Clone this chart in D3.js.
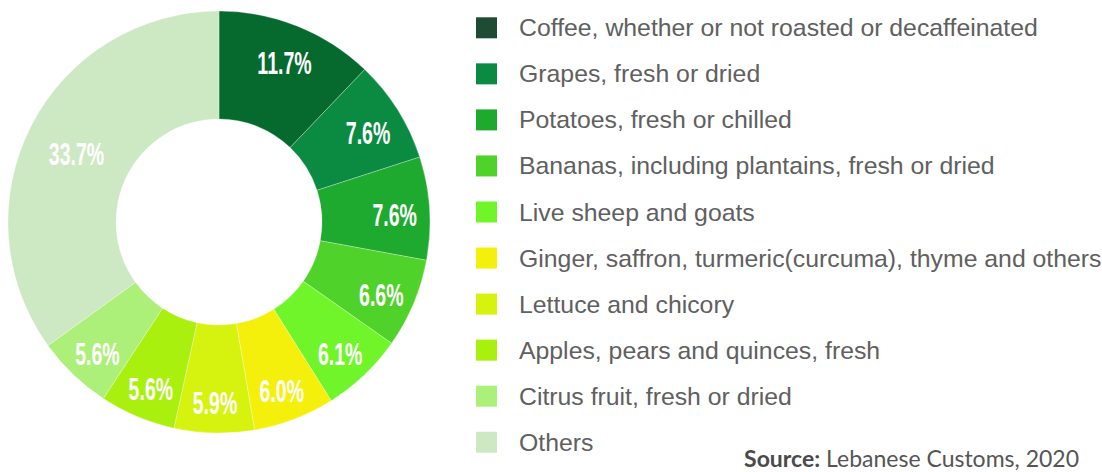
<!DOCTYPE html>
<html>
<head>
<meta charset="utf-8">
<script src="https://cdn.jsdelivr.net/npm/d3@7"></script>
<style>
  html, body { margin: 0; padding: 0; background: #ffffff; }
  svg { display: block; }
</style>
</head>
<body>
<svg id="chart" width="1102" height="472"></svg>
<script>
// Lebanese agri-food imports by product, share of total (%)
const categories = [
  "Coffee, whether or not roasted or decaffeinated",
  "Grapes, fresh or dried",
  "Potatoes, fresh or chilled",
  "Bananas, including plantains, fresh or dried",
  "Live sheep and goats",
  "Ginger, saffron, turmeric(curcuma), thyme and others",
  "Lettuce and chicory",
  "Apples, pears and quinces, fresh",
  "Citrus fruit, fresh or dried",
  "Others"
];
const shares = [11.7, 7.6, 7.6, 6.6, 6.1, 6.0, 5.9, 5.6, 5.6, 33.7];
const sliceColors = ["#066a2e", "#0b8b41", "#1ea92f", "#4fd22a", "#70f52a",
                     "#f4f00c", "#d6f20f", "#a9f00f", "#acef79", "#cde9c4"];
const swatchColors = ["#1f4a33", "#0b8b41", "#1ea92f", "#4fd22a", "#70f52a",
                      "#f4f00c", "#d6f20f", "#a9f00f", "#acef79", "#cde9c4"];
const sourceLabel = "Source:";
const sourceText = "Lebanese Customs, 2020";

const data = categories.map((c, i) => ({ name: c, value: shares[i], i }));

const svg = d3.select("#chart");

// ---- donut ----
const cx = 219, cy = 222, outerR = 211, innerR = 103;
const pie = d3.pie().value(d => d.value).sort(null);
const arc = d3.arc().innerRadius(innerR).outerRadius(outerR);
const labelArc = d3.arc().innerRadius(176).outerRadius(176);
const othersArc = d3.arc().innerRadius(160).outerRadius(160);

const g = svg.append("g").attr("transform", `translate(${cx},${cy})`);
const arcs = pie(data);

g.selectAll("path.slice")
  .data(arcs)
  .join("path")
  .attr("class", "slice")
  .attr("d", arc)
  .attr("fill", d => sliceColors[d.data.i])
  .attr("stroke", "rgba(255,255,255,0.35)")
  .attr("stroke-width", 0.8);

// condensed percentage labels
g.selectAll("text.pct")
  .data(arcs)
  .join("text")
  .attr("class", "pct")
  .attr("transform", d => {
    const [x, y] = (d.data.i === categories.length - 1 ? othersArc : labelArc).centroid(d);
    return `translate(${x},${y + 5}) scale(0.63,1)`;
  })
  .attr("text-anchor", "middle")
  .attr("dominant-baseline", "central")
  .attr("font-family", "'Liberation Sans', Arial, sans-serif")
  .attr("font-weight", "bold")
  .attr("font-size", 31)
  .attr("fill", "#ffffff")
  .text(d => d.data.value.toFixed(1) + "%");

// ---- legend ----
const legendY = d3.scalePoint()
  .domain(d3.range(categories.length))
  .range([27.8, 27.8 + 46.05 * (categories.length - 1)]);

const legend = svg.append("g");
const rows = legend.selectAll("g.row")
  .data(data)
  .join("g")
  .attr("class", "row")
  .attr("transform", d => `translate(0,${legendY(d.i)})`);

rows.append("rect")
  .attr("x", 476)
  .attr("y", -10.5)
  .attr("width", 21)
  .attr("height", 21)
  .attr("fill", d => swatchColors[d.i]);

rows.append("text")
  .attr("x", 519)
  .attr("y", 0)
  .attr("dominant-baseline", "central")
  .attr("font-family", "'Liberation Sans', Arial, Helvetica, sans-serif")
  .attr("font-size", 24.8)
  .attr("fill", "#606060")
  .text(d => d.name);

// ---- source note ----
const src = svg.append("text")
  .attr("x", 1079)
  .attr("y", 467)
  .attr("text-anchor", "end")
  .attr("font-family", "Lato, 'Open Sans', sans-serif")
  .attr("font-size", 23)
  .attr("fill", "#555555");
src.append("tspan").attr("font-weight", "bold").attr("fill", "#4a4a4a").text(sourceLabel);
src.append("tspan").text(" " + sourceText);
</script>
</body>
</html>
